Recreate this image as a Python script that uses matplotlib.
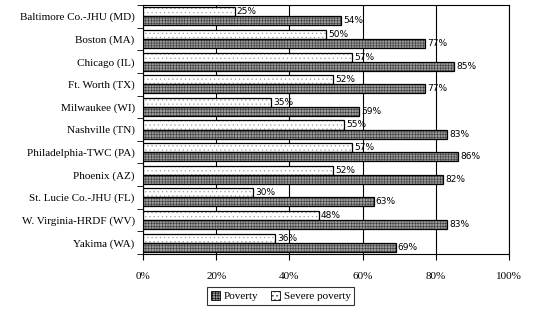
import matplotlib
matplotlib.use("Agg")
import matplotlib.pyplot as plt
import numpy as np

sites = ["Baltimore Co.-JHU (MD)", "Boston (MA)", "Chicago (IL)", "Ft. Worth (TX)",
         "Milwaukee (WI)", "Nashville (TN)", "Philadelphia-TWC (PA)", "Phoenix (AZ)",
         "St. Lucie Co.-JHU (FL)", "W. Virginia-HRDF (WV)", "Yakima (WA)"]
poverty = [54, 77, 85, 77, 59, 83, 86, 82, 63, 83, 69]
severe = [25, 50, 57, 52, 35, 55, 57, 52, 30, 48, 36]
xticks = [0, 20, 40, 60, 80, 100]

plt.rcParams["font.family"] = ["Liberation Serif", "DejaVu Serif"]
plt.rcParams["hatch.linewidth"] = 0.4

fig = plt.figure(figsize=(5.33, 3.14), dpi=100)
ax = fig.add_axes([0.2683, 0.191, 0.6867, 0.793])

y = np.arange(len(sites))
h = 0.4
# fills with fine texture, then black outlines on top
ax.barh(y - h / 2, severe, height=h, color="white", edgecolor="#a0a0a0",
        hatch="....", lw=0, zorder=3)
ax.barh(y + h / 2, poverty, height=h, color="#9a9a9a", edgecolor="#3a3a3a",
        hatch="++++++", lw=0, zorder=3)
bs = ax.barh(y - h / 2, severe, height=h, fill=False, edgecolor="black", lw=0.9, zorder=4)
bp = ax.barh(y + h / 2, poverty, height=h, fill=False, edgecolor="black", lw=0.9, zorder=4)
for yi, v in zip(y, severe):
    ax.text(v + 0.6, yi - h / 2, f"{v}%", va="center", ha="left", fontsize=6.5,
            family=["DejaVu Sans"], zorder=5)
for yi, v in zip(y, poverty):
    ax.text(v + 0.6, yi + h / 2, f"{v}%", va="center", ha="left", fontsize=6.5,
            family=["DejaVu Sans"], zorder=5)

ax.set_xlim(0, 100)
ax.set_ylim(len(sites) - 0.5, -0.5)
ax.set_xticks(xticks)
ax.set_xticklabels([f"{t}%" for t in xticks], fontsize=8)
ax.set_yticks(y)
ax.set_yticklabels(sites, fontsize=8)
ax.set_yticks(np.arange(len(sites) + 1) - 0.5, minor=True)
ax.tick_params(axis="y", which="major", length=0, pad=6)
ax.tick_params(axis="y", which="minor", length=4, direction="out")
ax.tick_params(axis="x", length=4, direction="out", pad=9)
ax.grid(True, axis="x", color="black", lw=0.8, zorder=0)
for s in ax.spines.values():
    s.set_linewidth(0.8)

from matplotlib.patches import Patch
handles = [Patch(facecolor="#9a9a9a", edgecolor="black", hatch="++++++", lw=0.6),
           Patch(facecolor="white", edgecolor="black", hatch="....", lw=0.6)]
leg = ax.legend(handles, ["Poverty", "Severe poverty"], loc="center",
                bbox_to_anchor=(0.527, 0.057), bbox_transform=fig.transFigure,
                ncol=2, fontsize=8, frameon=True, fancybox=False, edgecolor="black",
                handlelength=0.8, handleheight=0.8, handletextpad=0.3, columnspacing=1.2,
                borderpad=0.35)
leg.get_frame().set_linewidth(0.8)

fig.savefig("out.png", dpi=100)
